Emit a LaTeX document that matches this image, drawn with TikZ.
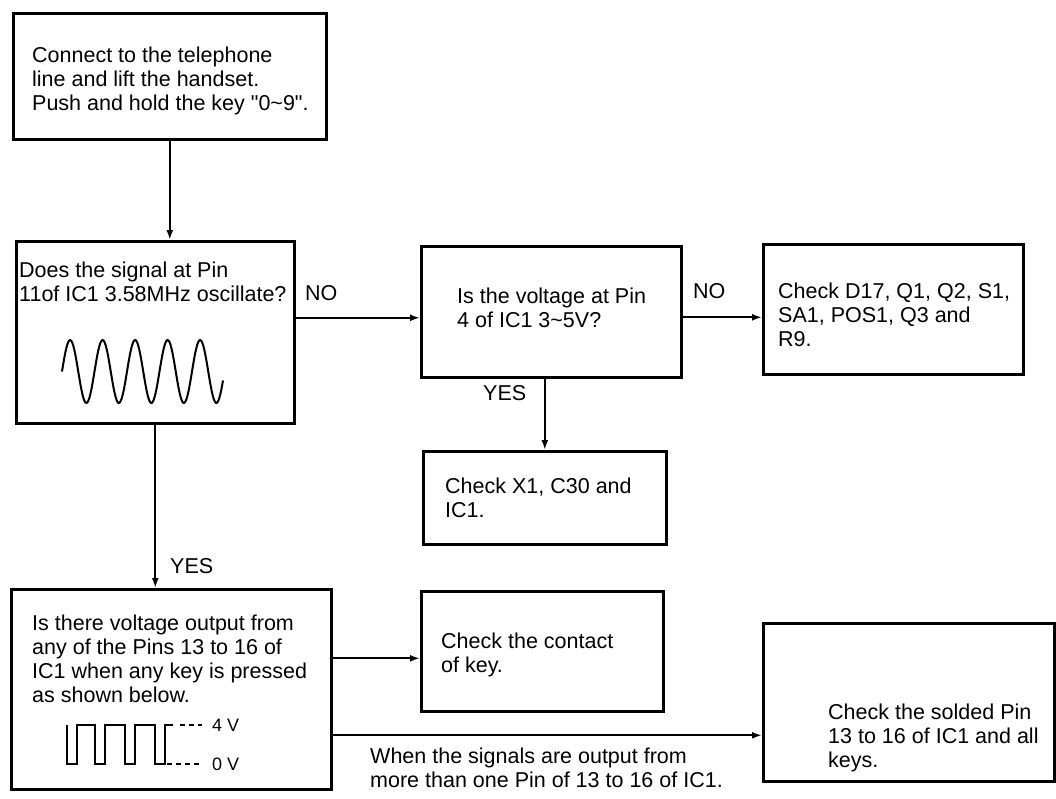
\documentclass[tikz,border=0pt]{standalone}
\usepackage{fontspec}
\setmainfont{Liberation Sans}[Ligatures=TeXOff]
\usetikzlibrary{arrows.meta,calc}

\begin{document}
\begin{tikzpicture}[x=1pt, y=-1pt,
    box/.style = {draw, line width=2.6pt, anchor=north west, inner sep=0pt},
    txt/.style = {anchor=north west, align=left, inner sep=0pt, font=\fontsize{21.5}{24}\selectfont},
    small/.style = {anchor=west, inner sep=0pt, font=\fontsize{18}{20}\selectfont},
    flow/.style = {-{Latex[length=10pt,width=7pt]}, line width=2pt}]
    \useasboundingbox (0,0) rectangle (1056,798);

    \node[box, minimum width=313pt, minimum height=126pt] (start) at (12,12) {};
    \node[box, minimum width=278pt, minimum height=182pt] (signal) at (15,240) {};
    \node[box, minimum width=260pt, minimum height=131pt] (volt) at (420,245) {};
    \node[box, minimum width=260pt, minimum height=130pt] (parts) at (762,243) {};
    \node[box, minimum width=243pt, minimum height=93pt] (xtal) at (422,450) {};
    \node[box, minimum width=320pt, minimum height=200pt] (keyq) at (10,588) {};
    \node[box, minimum width=242pt, minimum height=120pt] (contact) at (420,590) {};
    \node[box, minimum width=291pt, minimum height=158pt] (solder) at (762,622) {};

    \node[txt] (starttxt) at (32,47) {Connect to the telephone\\line and lift the handset.\\Push and hold the key "0\textasciitilde9".};
    \node[txt] (signaltxt) at (19,262) {Does the signal at Pin\\11of IC1 3.58MHz oscillate?};
    \node[txt] (volttxt) at (457,288) {Is the voltage at Pin\\4 of IC1 3\textasciitilde5V?};
    \node[txt] (partstxt) at (778,283) {Check D17, Q1, Q2, S1,\\SA1, POS1, Q3 and\\R9.};
    \node[txt] (xtaltxt) at (445,478) {Check X1, C30 and\\IC1.};
    \node[txt] (keyqtxt) at (32,615) {Is there voltage output from\\any of the Pins 13 to 16 of\\IC1 when any key is pressed\\as shown below.};
    \node[txt] (contacttxt) at (441,633) {Check the contact\\of key.};
    \node[txt] (soldertxt) at (828,704) {Check the solded Pin\\13 to 16 of IC1 and all\\keys.};
    \node[txt] (whentxt) at (370,748) {When the signals are output from\\more than one Pin of 13 to 16 of IC1.};

    \node[txt] (no1) at (305,285) {NO};
    \node[txt] (no2) at (693,283) {NO};
    \node[txt] (yes1) at (483,385) {YES};
    \node[txt] (yes2) at (170,558) {YES};

    \draw[line width=2pt, smooth] plot[domain=62:223, samples=160] (\x, {371.5-31.5*sin(11.077*(\x-62))});

    \draw[line width=2pt] (67,725) -- (67,764) -- (77,764) -- (77,725) -- (95,725) -- (95,764)
        -- (105,764) -- (105,725) -- (125,725) -- (125,764) -- (135,764) -- (135,725)
        -- (155,725) -- (155,764) -- (165,764) -- (165,725) -- (173,725);
    \draw[line width=1.5pt, dash pattern=on 5pt off 4pt] (180,725) -- (202,725);
    \draw[line width=1.5pt, dash pattern=on 5pt off 4pt] (167,764) -- (202,764);
    \node[small] (high) at (212,725) {4 V};
    \node[small] (low) at (212,764) {0 V};

    \draw[flow] (start.south) -- (start.south |- signal.north);
    \draw[flow] ($(signal.east |- volt.west)+(0,6)$) -- ($(volt.west)+(0,6)$);
    \draw[flow] ($(volt.east |- parts.west)+(0,8)$) -- ($(parts.west)+(0,8)$);
    \draw[flow] (volt.south -| xtal.north) -- (xtal.north);
    \draw[flow] (signal.south) -- (signal.south |- keyq.north);
    \draw[flow] ($(keyq.east |- contact.west)+(0,7)$) -- ($(contact.west)+(0,7)$);
    \draw[flow] ($(keyq.east |- solder.west)+(0,33)$) -- ($(solder.west)+(0,33)$);
\end{tikzpicture}
\end{document}
